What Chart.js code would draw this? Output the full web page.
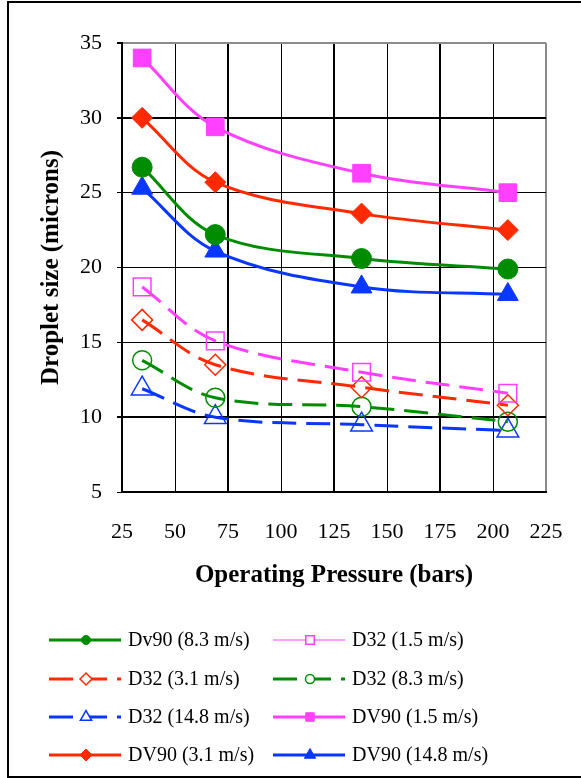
<!DOCTYPE html>
<html>
<head>
<meta charset="utf-8">
<script src="https://cdn.jsdelivr.net/npm/chart.js@4.4.1/dist/chart.umd.min.js"></script>
<style>
  html, body { margin: 0; padding: 0; background: #fff; }
  #wrap { position: relative; width: 581px; height: 778px; }
</style>
</head>
<body>
<div id="wrap"><canvas id="chart" width="581" height="778"></canvas></div>
<script>
// ---------------------------
// Data
// ---------------------------
const pressure = [34.5, 69, 138, 207];          // bars
const dv90_83  = [26.7, 22.2, 20.6, 19.9];
const d32_15   = [18.7, 15.1, 13.0, 11.6];
const d32_31   = [16.5, 13.5, 12.0, 10.8];
const d32_83   = [13.8, 11.3, 10.7, 9.7];
const d32_148  = [11.9, 10.0, 9.5, 9.1];
const dv90_15  = [34.0, 29.4, 26.3, 25.0];
const dv90_31  = [30.0, 25.7, 23.6, 22.5];
const dv90_148 = [25.3, 21.1, 18.7, 18.2];

const xTicks = [25, 50, 75, 100, 125, 150, 175, 200, 225];
const yTicks = [5, 10, 15, 20, 25, 30, 35];

const PINK  = "#ff40ff";
const RED   = "#ff2a00";
const GREEN = "#008c00";
const BLUE  = "#0a37ff";

const SERIF = "'Liberation Serif', 'Times New Roman', serif";

// legend marker size per style
const legendSize = { circle: 4.5, rect: 6, rectRot: 6, triangle: 6.5 };

function pts(values) {
  return values.map((v, i) => ({ x: pressure[i], y: v }));
}

// filled marker, solid line
function dv90(label, values, color, style, radius) {
  return {
    label, data: pts(values),
    borderColor: color, borderWidth: 3,
    pointStyle: style, pointRadius: radius,
    pointBackgroundColor: color, pointBorderColor: color, pointBorderWidth: 1,
    legendRadius: legendSize[style]
  };
}

// hollow marker, dashed line
function d32(label, values, color, style, radius) {
  return {
    label, data: pts(values),
    borderColor: color, borderWidth: 3, borderDash: [24, 10],
    pointStyle: style, pointRadius: radius,
    pointBackgroundColor: "rgba(0,0,0,0)", pointBorderColor: color, pointBorderWidth: 1.5,
    legendRadius: legendSize[style], hollow: true
  };
}

const datasets = [
  dv90("Dv90 (8.3 m/s)",  dv90_83,  GREEN, "circle",   10),
  Object.assign(d32("D32 (1.5 m/s)", d32_15, PINK, "rect", 12.5), { legendLineWidth: 1, legendDash: [] }),
  d32("D32 (3.1 m/s)",  d32_31,  RED,   "rectRot",  10.5),
  d32("D32 (8.3 m/s)",  d32_83,  GREEN, "circle",   9.5),
  d32("D32 (14.8 m/s)", d32_148, BLUE,  "triangle", 12.5),
  dv90("DV90 (1.5 m/s)",  dv90_15,  PINK,  "rect",     12.5),
  dv90("DV90 (3.1 m/s)",  dv90_31,  RED,   "rectRot",  10.5),
  dv90("DV90 (14.8 m/s)", dv90_148, BLUE,  "triangle", 12)
];

// ---------------------------
// Legend + outer frame, drawn Excel style
// ---------------------------
const legendCols = [49, 273];
const legendRows = [640, 679, 717, 755];

const excelLegend = {
  id: "excelLegend",
  afterDraw(chart) {
    const ctx = chart.ctx;
    ctx.save();

    // outer frame (right edge runs off the picture)
    ctx.strokeStyle = "#000";
    ctx.lineWidth = 2;
    ctx.strokeRect(8, 2, 700, 775);

    chart.data.datasets.forEach((ds, i) => {
      const x0 = legendCols[i % 2];
      const y  = legendRows[Math.floor(i / 2)];

      ctx.strokeStyle = ds.borderColor;
      ctx.lineWidth = ds.legendLineWidth || ds.borderWidth;
      ctx.setLineDash(ds.legendDash || ds.borderDash || []);
      ctx.beginPath();
      ctx.moveTo(x0, y);
      ctx.lineTo(x0 + 72, y);
      ctx.stroke();
      ctx.setLineDash([]);

      ctx.fillStyle = ds.hollow ? "#fff" : ds.borderColor;
      ctx.strokeStyle = ds.borderColor;
      ctx.lineWidth = ds.pointBorderWidth;
      Chart.helpers.drawPoint(ctx, {
        pointStyle: ds.pointStyle, radius: ds.legendRadius,
        borderWidth: ds.pointBorderWidth, rotation: 0
      }, x0 + 37, y);

      ctx.fillStyle = "#000";
      ctx.font = "20px " + SERIF;
      ctx.textAlign = "left";
      ctx.textBaseline = "middle";
      ctx.fillText(ds.label, x0 + 79, y + 1);
    });
    ctx.restore();
  }
};

// ---------------------------
// Chart
// ---------------------------
new Chart(document.getElementById("chart"), {
  type: "line",
  data: { datasets },
  options: {
    responsive: false,
    animation: false,
    events: [],
    layout: { padding: { left: 0, top: 43, right: 35, bottom: 176 } },
    elements: { line: { tension: 0.35 } },
    plugins: { legend: { display: false }, tooltip: { enabled: false } },
    scales: {
      x: {
        type: "linear", min: 25, max: 225,
        afterBuildTicks: s => { s.ticks = xTicks.map(v => ({ value: v })); },
        afterFit: s => { s.height = 110; s.paddingLeft = 0; s.paddingRight = 0; },
        grid: {
          drawTicks: false,
          color: c => c.tick && c.tick.value === 225 ? "#8c8c8c" : "#000",
          lineWidth: c => {
            const v = c.tick && c.tick.value;
            return [75, 125, 175, 225].includes(v) ? 2 : 1;
          }
        },
        border: { display: true, color: "#000", width: 2 },
        ticks: { color: "#000", padding: 27, font: { family: SERIF, size: 22 } },
        title: {
          display: true, text: "Operating Pressure (bars)", color: "#000",
          font: { family: SERIF, size: 25, weight: "bold" },
          padding: { top: 0, bottom: 11 }
        }
      },
      y: {
        min: 5, max: 35,
        afterBuildTicks: s => { s.ticks = yTicks.map(v => ({ value: v })); },
        afterFit: s => { s.width = 122; s.paddingTop = 0; s.paddingBottom = 0; },
        grid: {
          tickLength: 5,
          tickColor: "#000",
          color: c => c.tick && c.tick.value === 35 ? "#8c8c8c" : "#000",
          lineWidth: c => {
            const v = c.tick && c.tick.value;
            return [10, 30, 35].includes(v) ? 2 : 1;
          }
        },
        border: { display: true, color: "#000", width: 2 },
        ticks: { color: "#000", padding: 15, font: { family: SERIF, size: 22 } },
        title: {
          display: true, text: "Droplet size (microns)", color: "#000",
          font: { family: SERIF, size: 25, weight: "bold" },
          padding: { top: 37, bottom: 0 }
        }
      }
    }
  },
  plugins: [excelLegend]
});
</script>
</body>
</html>
